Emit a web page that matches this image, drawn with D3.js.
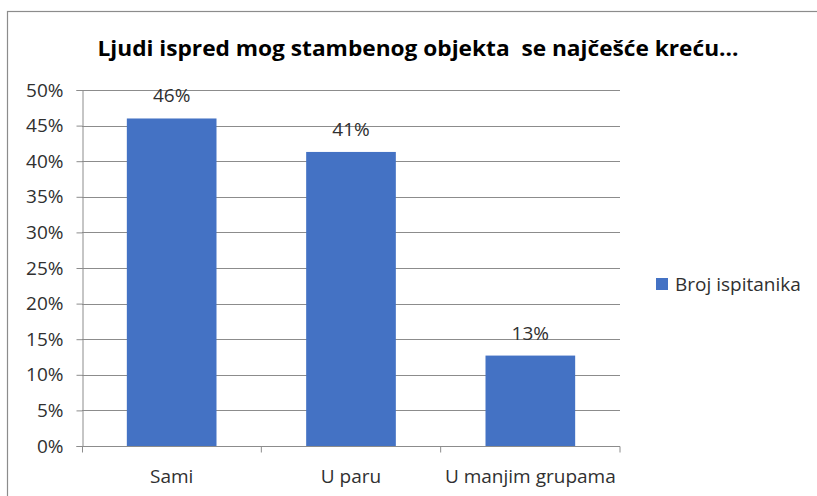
<!DOCTYPE html>
<html>
<head>
<meta charset="utf-8">
<script src="https://cdn.jsdelivr.net/npm/d3@7/dist/d3.min.js"></script>
<style>
  html, body { margin: 0; padding: 0; background: #fff; }
  svg { display: block; }
  text { font-family: "Open Sans", sans-serif; }
</style>
</head>
<body>
<svg id="chart" width="817" height="496"></svg>
<script>
const title = "Ljudi ispred mog stambenog objekta  se najčešće kreću...";
const categories = ["Sami", "U paru", "U manjim grupama"];
const values = [0.46, 0.413, 0.127];
const valueLabels = ["46%", "41%", "13%"];
const seriesName = "Broj ispitanika";
const yTicks = [0, 0.05, 0.10, 0.15, 0.20, 0.25, 0.30, 0.35, 0.40, 0.45, 0.50];

const svg = d3.select("#chart");
const W = 817, H = 496;
const margin = { left: 82, right: 197, top: 90, bottom: 50 };
const plotW = W - margin.left - margin.right;
const plotH = H - margin.top - margin.bottom;
const textCol = "#303030";
const fs = 19;

// outer border (top and left visible)
svg.append("rect").attr("x", 7.5).attr("y", 11.5).attr("width", 830).attr("height", 500)
  .attr("fill", "none").attr("stroke", "#8c8c8c").attr("stroke-width", 1.2);

// title
svg.append("text").attr("x", 418).attr("y", 56).attr("text-anchor", "middle")
  .attr("font-size", 22).attr("font-weight", "bold").attr("fill", "#000")
  .attr("textLength", 641).attr("lengthAdjust", "spacingAndGlyphs")
  .attr("xml:space", "preserve")
  .text(title);

const g = svg.append("g").attr("transform", `translate(${margin.left},${margin.top})`);

const x = d3.scaleBand().domain(categories).range([0, plotW]).paddingInner(0.5).paddingOuter(0.25);
const xb = d3.scaleBand().domain(categories).range([0, plotW]);
const y = d3.scaleLinear().domain([0, 0.5]).range([plotH, 0]);

// gridlines
g.append("g").selectAll("line").data(yTicks.filter(d => d > 0)).join("line")
  .attr("x1", 0).attr("x2", plotW)
  .attr("y1", d => Math.round(y(d)) + 0.5).attr("y2", d => Math.round(y(d)) + 0.5)
  .attr("stroke", "#8c8c8c").attr("stroke-width", 1);

// y axis
const yAxis = g.append("g").attr("transform", "translate(0.5,0)")
  .call(d3.axisLeft(y).tickValues(yTicks).tickFormat(d3.format(".0%")).tickSize(6).tickPadding(13));
yAxis.select(".domain").attr("stroke", "#8c8c8c");
yAxis.selectAll(".tick line").attr("stroke", "#8c8c8c");
yAxis.selectAll(".tick text").attr("font-size", fs).attr("fill", textCol)
  .attr("font-family", "'Open Sans', sans-serif");

// bars
g.append("g").selectAll("rect").data(categories).join("rect")
  .attr("x", d => x(d)).attr("width", x.bandwidth())
  .attr("y", (d, i) => y(values[i])).attr("height", (d, i) => plotH - y(values[i]))
  .attr("fill", "#4472c4");

// x axis
const xAxisG = g.append("g").attr("transform", `translate(0,${plotH + 0.5})`);
xAxisG.append("line").attr("x1", 0).attr("x2", plotW).attr("stroke", "#8c8c8c");
xAxisG.selectAll("line.tk").data([0, 1, 2, 3]).join("line").attr("class", "tk")
  .attr("x1", i => i === 3 ? plotW : (i === 0 ? 0.5 : xb(categories[i]))).attr("x2", i => i === 3 ? plotW : (i === 0 ? 0.5 : xb(categories[i])))
  .attr("y1", 0).attr("y2", 6).attr("stroke", "#8c8c8c");
xAxisG.selectAll("text").data(categories).join("text")
  .attr("x", d => xb(d) + xb.bandwidth() / 2).attr("y", 36)
  .attr("text-anchor", "middle").attr("font-size", fs).attr("fill", textCol)
  .text(d => d);

// data labels
g.append("g").selectAll("text").data(categories).join("text")
  .attr("x", d => x(d) + x.bandwidth() / 2).attr("y", (d, i) => y(values[i]) - 16)
  .attr("text-anchor", "middle").attr("font-size", fs).attr("fill", textCol)
  .text((d, i) => valueLabels[i]);

// legend
const lg = svg.append("g").attr("transform", "translate(656,278)");
lg.append("rect").attr("width", 12).attr("height", 12).attr("fill", "#4472c4");
lg.append("text").attr("x", 19).attr("y", 13).attr("font-size", fs).attr("fill", textCol).text(seriesName);
</script>
</body>
</html>
